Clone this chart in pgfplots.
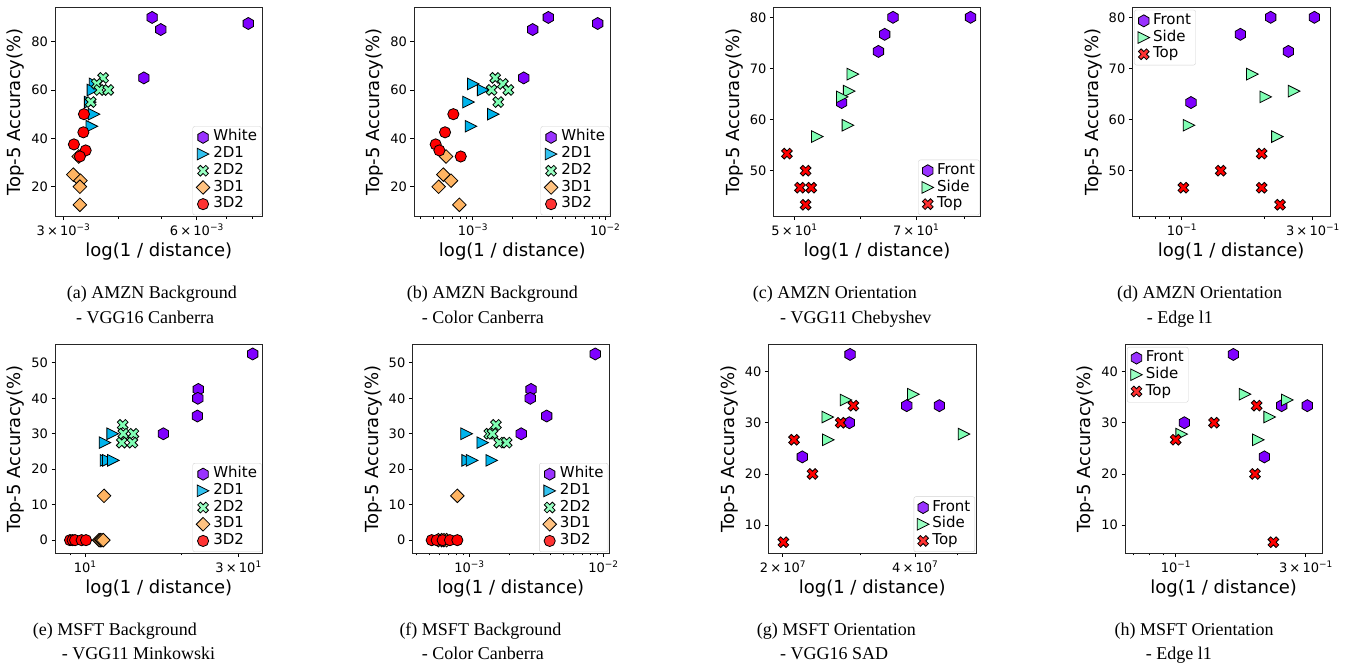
\documentclass[border=0pt]{standalone}
\usepackage{fontspec}
\setmainfont{Liberation Serif}
\newfontfamily\dv{DejaVu Sans}
\usepackage{pgfplots}
\pgfplotsset{compat=1.18}

\definecolor{cPur}{rgb}{0.5,0,1}
\definecolor{cBlue}{rgb}{0,0.707,0.924}
\definecolor{cGreen}{rgb}{0.5,1,0.707}
\definecolor{cOrange}{rgb}{1,0.707,0.383}
\definecolor{cRed}{rgb}{1,0,0}

\newcommand\sups[1]{\raisebox{0.42em}{\fontsize{9}{9}\selectfont #1}}
\newcommand\tl[2]{#1\,×\,10\sups{#2}}

\pgfdeclareplotmark{hexa}{%
  \pgfpathmoveto{\pgfpointpolar{90}{\pgfplotmarksize}}%
  \pgfpathlineto{\pgfpointpolar{150}{\pgfplotmarksize}}%
  \pgfpathlineto{\pgfpointpolar{210}{\pgfplotmarksize}}%
  \pgfpathlineto{\pgfpointpolar{270}{\pgfplotmarksize}}%
  \pgfpathlineto{\pgfpointpolar{330}{\pgfplotmarksize}}%
  \pgfpathlineto{\pgfpointpolar{30}{\pgfplotmarksize}}%
  \pgfpathclose\pgfusepathqfillstroke}
\pgfdeclareplotmark{triright}{%
  \pgfpathmoveto{\pgfpoint{\pgfplotmarksize}{0pt}}%
  \pgfpathlineto{\pgfpoint{-\pgfplotmarksize}{\pgfplotmarksize}}%
  \pgfpathlineto{\pgfpoint{-\pgfplotmarksize}{-\pgfplotmarksize}}%
  \pgfpathclose\pgfusepathqfillstroke}
\pgfdeclareplotmark{dia}{%
  \pgfpathmoveto{\pgfpoint{\pgfplotmarksize}{0pt}}%
  \pgfpathlineto{\pgfpoint{0pt}{\pgfplotmarksize}}%
  \pgfpathlineto{\pgfpoint{-\pgfplotmarksize}{0pt}}%
  \pgfpathlineto{\pgfpoint{0pt}{-\pgfplotmarksize}}%
  \pgfpathclose\pgfusepathqfillstroke}
\pgfdeclareplotmark{xfill}{%
  \pgftransformrotate{45}%
  \pgfpathmoveto{\pgfpoint{-\pgfplotmarksize/3}{-\pgfplotmarksize}}%
  \pgfpathlineto{\pgfpoint{\pgfplotmarksize/3}{-\pgfplotmarksize}}%
  \pgfpathlineto{\pgfpoint{\pgfplotmarksize/3}{-\pgfplotmarksize/3}}%
  \pgfpathlineto{\pgfpoint{\pgfplotmarksize}{-\pgfplotmarksize/3}}%
  \pgfpathlineto{\pgfpoint{\pgfplotmarksize}{\pgfplotmarksize/3}}%
  \pgfpathlineto{\pgfpoint{\pgfplotmarksize/3}{\pgfplotmarksize/3}}%
  \pgfpathlineto{\pgfpoint{\pgfplotmarksize/3}{\pgfplotmarksize}}%
  \pgfpathlineto{\pgfpoint{-\pgfplotmarksize/3}{\pgfplotmarksize}}%
  \pgfpathlineto{\pgfpoint{-\pgfplotmarksize/3}{\pgfplotmarksize/3}}%
  \pgfpathlineto{\pgfpoint{-\pgfplotmarksize}{\pgfplotmarksize/3}}%
  \pgfpathlineto{\pgfpoint{-\pgfplotmarksize}{-\pgfplotmarksize/3}}%
  \pgfpathlineto{\pgfpoint{-\pgfplotmarksize/3}{-\pgfplotmarksize/3}}%
  \pgfpathclose\pgfusepathqfillstroke}

\pgfplotsset{
  legend image code/.code={\draw[#1] plot coordinates {(0pt,0pt)};},
  ptW/.style={only marks, color=black, line width=0.8pt, mark=hexa, mark size=6pt, mark options={solid, fill=cPur}},
  ptA/.style={only marks, color=black, line width=0.8pt, mark=triright, mark size=5.8pt, mark options={solid, fill=cBlue}},
  ptB/.style={only marks, color=black, line width=0.8pt, mark=xfill, mark size=5.7pt, mark options={solid, fill=cGreen}},
  ptC/.style={only marks, color=black, line width=0.8pt, mark=dia, mark size=6.8pt, mark options={solid, fill=cOrange}},
  ptD/.style={only marks, color=black, line width=0.8pt, mark=*, mark size=5.6pt, mark options={solid, fill=cRed}},
  ptS/.style={only marks, color=black, line width=0.8pt, mark=triright, mark size=5.8pt, mark options={solid, fill=cGreen}},
  ptT/.style={only marks, color=black, line width=0.8pt, mark=xfill, mark size=5.7pt, mark options={solid, fill=cRed}},
  every axis/.append style={
    scale only axis, clip=false,
    axis line style={black!85, line width=0.8pt},
    tick align=outside, xtick pos=left, ytick pos=left,
    major tick length=3.5pt, minor tick length=2pt,
    tick style={black, line width=0.8pt},
    minor tick style={black, line width=0.6pt},
    tick label style={font=\dv\fontsize{13}{15}\selectfont},
    label style={font=\dv\fontsize{18}{21}\selectfont},
    /pgf/number format/assume math mode=true,
    xlabel={log(1 / distance)}, ylabel={Top-5 Accuracy(\%)},
    legend style={font=\dv\fontsize{15}{17}\selectfont, draw=black!18, rounded corners=2pt,
      fill=white, fill opacity=0.8, text opacity=1, inner xsep=3.5pt, inner ysep=2.5pt,
      nodes={inner sep=1pt, text height=11pt, text depth=3.7pt},
      /tikz/every odd column/.append style={column sep=2.5pt}},
    legend cell align=left,
  },
}

\begin{document}
\begin{tikzpicture}[x=1pt,y=1pt]
\path[use as bounding box] (0,0) rectangle (1355,666);

% (a)
\begin{semilogxaxis}[at={(55pt,449.3pt)}, anchor=south west, width=207.7pt, height=209.4pt,
  legend style={at={(1,0)}, anchor=south east, xshift=-1pt, yshift=1.5pt},
  xmin=2.873e-3, xmax=8.458e-3, ymin=7.6, ymax=94.2,
  xtick={3e-3,6e-3}, xticklabels={\tl{3}{−3},\tl{6}{−3}}, minor xtick={4e-3,5e-3,7e-3,8e-3},
  ytick={20,40,60,80}]
\addplot[ptW] coordinates {(4.76e-3,90) (4.98e-3,85) (7.85e-3,87.5) (4.56e-3,65)};
\addlegendentry{White}
\addplot[ptA] coordinates {(3.54e-3,62.5) (3.50e-3,60) (3.45e-3,55) (3.52e-3,50) (3.48e-3,45)};
\addlegendentry{2D1}
\addplot[ptB] coordinates {(3.69e-3,65) (3.57e-3,62.5) (3.62e-3,60) (3.79e-3,60) (3.46e-3,55)};
\addlegendentry{2D2}
\addplot[ptC] coordinates {(3.25e-3,32.5) (3.16e-3,25) (3.28e-3,22.5) (3.27e-3,20) (3.27e-3,12.5)};
\addlegendentry{3D1}
\addplot[ptD] coordinates {(3.34e-3,50) (3.33e-3,42.5) (3.17e-3,37.5) (3.37e-3,35) (3.27e-3,32.5)};
\addlegendentry{3D2}
\end{semilogxaxis}

% (b)
\begin{semilogxaxis}[at={(414pt,449.3pt)}, anchor=south west, width=196.7pt, height=209.4pt,
  legend style={at={(1,0)}, anchor=south east, xshift=-1pt, yshift=1.5pt},
  xmin=3.60e-4, xmax=1.104e-2, ymin=7.6, ymax=94.2,
  xtick={1e-3,1e-2}, xticklabels={10\sups{−3},10\sups{−2}},
  minor xtick={4e-4,5e-4,6e-4,7e-4,8e-4,9e-4,2e-3,3e-3,4e-3,5e-3,6e-3,7e-3,8e-3,9e-3},
  ytick={20,40,60,80}]
\addplot[ptW] coordinates {(2.84e-3,85) (3.73e-3,90) (8.80e-3,87.5) (2.43e-3,65)};
\addlegendentry{White}
\addplot[ptA] coordinates {(1.01e-3,62.5) (1.20e-3,60) (9.3e-4,55) (1.43e-3,50) (9.7e-4,45)};
\addlegendentry{2D1}
\addplot[ptB] coordinates {(1.48e-3,65) (1.69e-3,62.5) (1.39e-3,60) (1.86e-3,60) (1.56e-3,55)};
\addlegendentry{2D2}
\addplot[ptC] coordinates {(6.29e-4,32.5) (6.00e-4,25) (6.86e-4,22.5) (5.53e-4,20) (7.93e-4,12.5)};
\addlegendentry{3D1}
\addplot[ptD] coordinates {(7.14e-4,50) (6.18e-4,42.5) (5.25e-4,37.5) (5.60e-4,35) (8.12e-4,32.5)};
\addlegendentry{3D2}
\end{semilogxaxis}

% (c)
\begin{semilogxaxis}[at={(773.3pt,449.3pt)}, anchor=south west, width=207.4pt, height=209.4pt,
  legend style={at={(1,0)}, anchor=south east, xshift=-1pt, yshift=1.5pt},
  xmin=47.19, xmax=83.72, ymin=41.0, ymax=81.96,
  xtick={50,70}, xticklabels={\tl{5}{1},\tl{7}{1}}, minor xtick={60,80},
  ytick={50,60,70,80}]
\addplot[ptW] coordinates {(65.7,80) (81.4,80) (64.2,76.67) (63.1,73.33) (57.0,63.33)};
\addlegendentry{Front}
\addplot[ptS] coordinates {(58.8,68.89) (58.2,65.56) (57.1,64.44) (58.0,58.89) (53.3,56.67)};
\addlegendentry{Side}
\addplot[ptT] coordinates {(49.0,53.33) (51.6,50) (50.8,46.67) (52.4,46.67) (51.6,43.33)};
\addlegendentry{Top}
\end{semilogxaxis}

% (d)
\begin{semilogxaxis}[at={(1132.3pt,449.3pt)}, anchor=south west, width=197.7pt, height=209.4pt,
  legend style={at={(0,1)}, anchor=north west, xshift=2pt, yshift=-2.5pt},
  xmin=0.0661, xmax=0.3468, ymin=41.0, ymax=81.96,
  xtick={0.1,0.3}, xticklabels={10\sups{−1},\tl{3}{−1}}, minor xtick={0.07,0.08,0.09,0.2},
  ytick={50,60,70,80}]
\addplot[ptW] coordinates {(0.2109,80) (0.3042,80) (0.1636,76.67) (0.2446,73.33) (0.1081,63.33)};
\addlegendentry{Front}
\addplot[ptS] coordinates {(0.1809,68.89) (0.2566,65.56) (0.2023,64.44) (0.1063,58.89) (0.2231,56.67)};
\addlegendentry{Side}
\addplot[ptT] coordinates {(0.1956,53.33) (0.1387,50) (0.1014,46.67) (0.1956,46.67) (0.2281,43.33)};
\addlegendentry{Top}
\end{semilogxaxis}

% (e)
\begin{semilogxaxis}[at={(55pt,112.5pt)}, anchor=south west, width=207.7pt, height=209pt,
  legend style={at={(1,0)}, anchor=south east, xshift=-1pt, yshift=1.5pt},
  xmin=8.065, xmax=35.72, ymin=-3.76, ymax=55.17,
  xtick={10,30}, xticklabels={10\sups{1},\tl{3}{1}}, minor xtick={9,20},
  ytick={0,10,20,30,40,50}]
\addplot[ptW] coordinates {(33.24,52.5) (22.52,42.5) (22.44,40) (22.37,35) (17.53,30)};
\addlegendentry{White}
\addplot[ptA] coordinates {(12.19,30) (11.54,27.5) (11.62,22.5) (11.82,22.5) (12.25,22.5)};
\addlegendentry{2D1}
\addplot[ptB] coordinates {(13.10,32.5) (13.16,30) (14.14,30) (13.01,27.5) (14.04,27.5)};
\addlegendentry{2D2}
\addplot[ptC] coordinates {(11.46,12.5) (11.06,0) (11.16,0) (11.29,0) (11.40,0)};
\addlegendentry{3D1}
\addplot[ptD] coordinates {(8.98,0) (9.15,0) (9.31,0) (9.76,0) (10.07,0)};
\addlegendentry{3D2}
\end{semilogxaxis}

% (f)
\begin{semilogxaxis}[at={(412.3pt,112.5pt)}, anchor=south west, width=197pt, height=209pt,
  legend style={at={(1,0)}, anchor=south east, xshift=-1pt, yshift=1.5pt},
  xmin=3.754e-4, xmax=1.109e-2, ymin=-3.76, ymax=55.17,
  xtick={1e-3,1e-2}, xticklabels={10\sups{−3},10\sups{−2}},
  minor xtick={4e-4,5e-4,6e-4,7e-4,8e-4,9e-4,2e-3,3e-3,4e-3,5e-3,6e-3,7e-3,8e-3,9e-3},
  ytick={0,10,20,30,40,50}]
\addplot[ptW] coordinates {(8.71e-3,52.5) (2.89e-3,42.5) (2.85e-3,40) (3.78e-3,35) (2.44e-3,30)};
\addlegendentry{White}
\addplot[ptA] coordinates {(9.55e-4,30) (1.26e-3,27.5) (9.72e-4,22.5) (1.05e-3,22.5) (1.47e-3,22.5)};
\addlegendentry{2D1}
\addplot[ptB] coordinates {(1.58e-3,32.5) (1.41e-3,30) (1.49e-3,30) (1.67e-3,27.5) (1.90e-3,27.5)};
\addlegendentry{2D2}
\addplot[ptC] coordinates {(8.14e-4,12.5) (5.87e-4,0) (6.22e-4,0) (6.47e-4,0) (6.77e-4,0)};
\addlegendentry{3D1}
\addplot[ptD] coordinates {(5.24e-4,0) (5.71e-4,0) (6.32e-4,0) (7.17e-4,0) (8.14e-4,0)};
\addlegendentry{3D2}
\end{semilogxaxis}

% (g)
\begin{semilogxaxis}[at={(768.3pt,112.5pt)}, anchor=south west, width=207.7pt, height=209pt,
  legend style={at={(1,0)}, anchor=south east, xshift=-1pt, yshift=1.5pt},
  xmin=1.855e7, xmax=5.507e7, ymin=4.47, ymax=45.27,
  xtick={2e7,4e7}, xticklabels={\tl{2}{7},\tl{4}{7}}, minor xtick={3e7,5e7},
  ytick={10,20,30,40}]
\addplot[ptW] coordinates {(2.846e7,43.33) (3.83e7,33.33) (4.544e7,33.33) (2.836e7,30) (2.216e7,23.33)};
\addlegendentry{Front}
\addplot[ptS] coordinates {(2.786e7,34.44) (3.966e7,35.56) (5.17e7,27.78) (2.532e7,31.11) (2.54e7,26.67)};
\addlegendentry{Side}
\addplot[ptT] coordinates {(2.007e7,6.67) (2.122e7,26.67) (2.337e7,20) (2.71e7,30) (2.896e7,33.33)};
\addlegendentry{Top}
\end{semilogxaxis}

% (h)
\begin{semilogxaxis}[at={(1125pt,112.5pt)}, anchor=south west, width=197.3pt, height=209pt,
  legend style={at={(0,1)}, anchor=north west, xshift=2pt, yshift=-2.5pt},
  xmin=0.06516, xmax=0.3453, ymin=4.47, ymax=45.27,
  xtick={0.1,0.3}, xticklabels={10\sups{−1},\tl{3}{−1}}, minor xtick={0.07,0.08,0.09,0.2},
  ytick={10,20,30,40}]
\addplot[ptW] coordinates {(0.1628,43.33) (0.2449,33.33) (0.3042,33.33) (0.1076,30) (0.2116,23.33)};
\addlegendentry{Front}
\addplot[ptS] coordinates {(0.1797,35.56) (0.2569,34.44) (0.2213,31.11) (0.2011,26.67) (0.1052,27.78)};
\addlegendentry{Side}
\addplot[ptT] coordinates {(0.1,26.67) (0.1382,30) (0.1983,33.33) (0.1955,20) (0.2283,6.67)};
\addlegendentry{Top}
\end{semilogxaxis}

% captions
\begin{scope}[every node/.style={font=\fontsize{18}{21}\selectfont, inner sep=0pt, anchor=base west}]
\node at (66.7,367) {(a) AMZN Background};
\node at (76,342.7) {- VGG16 Canberra};
\node at (406.7,367) {(b) AMZN Background};
\node at (421.7,342.7) {- Color Canberra};
\node at (752.7,367) {(c) AMZN Orientation};
\node at (780,342.7) {- VGG11 Chebyshev};
\node at (1117,367) {(d) AMZN Orientation};
\node at (1146.7,342.7) {- Edge l1};
\node at (32.7,30) {(e) MSFT Background};
\node at (61.7,6.7) {- VGG11 Minkowski};
\node at (399.3,30) {(f) MSFT Background};
\node at (421.7,6.7) {- Color Canberra};
\node at (756.7,30) {(g) MSFT Orientation};
\node at (780,6.7) {- VGG16 SAD};
\node at (1114.3,30) {(h) MSFT Orientation};
\node at (1145.7,6.7) {- Edge l1};
\end{scope}
\end{tikzpicture}
\end{document}
